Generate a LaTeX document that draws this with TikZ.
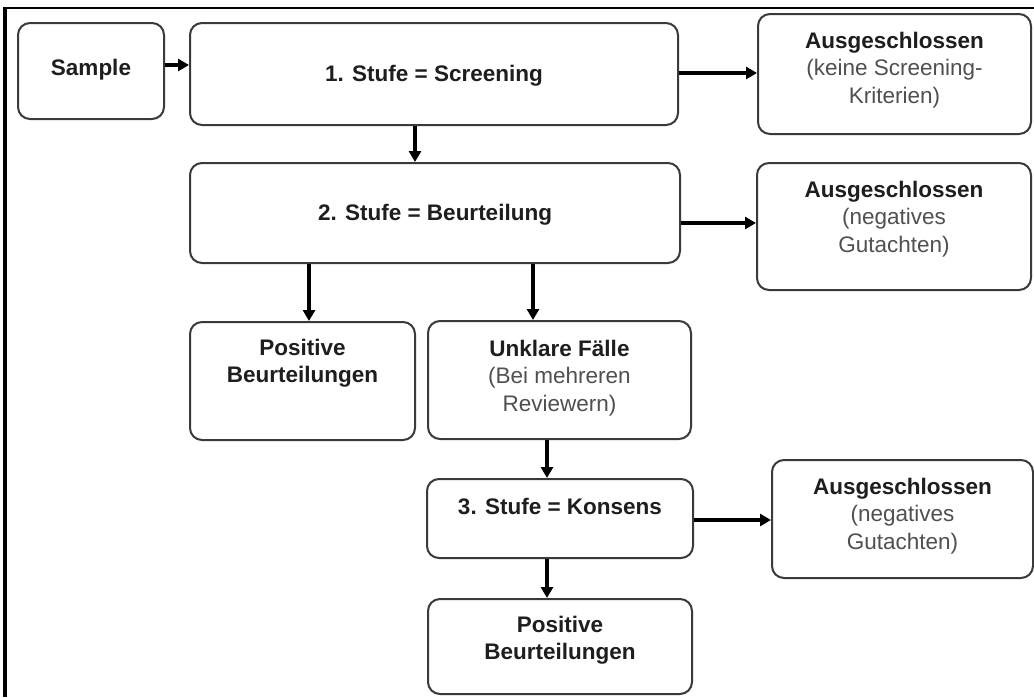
\documentclass[tikz,border=0pt]{standalone}
\usepackage{fontspec}
\setmainfont{Liberation Sans}
\usetikzlibrary{arrows.meta}
\definecolor{boxline}{HTML}{3A3A3A}
\definecolor{boldtxt}{HTML}{1E1E1E}
\definecolor{graytxt}{HTML}{505050}
\tikzset{
  box/.style={draw=boxline, line width=2pt, rounded corners=12pt, fill=white, inner sep=0pt},
  txt/.style={align=center, inner sep=0pt, font=\fontsize{22.5}{27.5}\selectfont, text=graytxt},
  arr/.style={line width=3.6pt, -{Triangle[length=11pt,width=12pt]}, black},
}
\newcommand{\hb}[1]{\textbf{\textcolor{boldtxt}{#1}}}
\begin{document}
\begin{tikzpicture}[x=1pt,y=-1pt]
\useasboundingbox (0,0) rectangle (1034,697);
\fill[white] (0,0) rectangle (1034,697);
% frame
\draw[line width=2.2pt] (1034,8) -- (4,8);
\draw[line width=3.2pt] (5,7) -- (5,697);
% boxes
\node[box, minimum width=146pt, minimum height=96pt] (sample) at (91,71) {};
\node[box, minimum width=488pt, minimum height=102pt] (s1) at (434,74) {};
\node[box, minimum width=273pt, minimum height=120pt] (a1) at (894.5,74) {};
\node[box, minimum width=490pt, minimum height=100pt] (s2) at (435,213) {};
\node[box, minimum width=274pt, minimum height=127pt] (a2) at (894,226.5) {};
\node[box, minimum width=225pt, minimum height=118pt] (p1) at (302.5,381) {};
\node[box, minimum width=263pt, minimum height=118pt] (u) at (559.5,380) {};
\node[box, minimum width=266pt, minimum height=79pt] (s3) at (560,518.5) {};
\node[box, minimum width=261pt, minimum height=118pt] (a3) at (902.5,519) {};
\node[box, minimum width=264pt, minimum height=95pt] (p2) at (560,646.5) {};
% texts
\node[txt] (tsample) at (91,70) {\hb{Sample}};
\node[txt] (ts1) at (434,76) {\hb{1. Stufe = Screening}};
\node[txt] (ta1) at (894.5,70) {\hb{Ausgeschlossen}\\(keine Screening-\\Kriterien)};
\node[txt] (ts2) at (435,215) {\hb{2. Stufe = Beurteilung}};
\node[txt] (ta2) at (894,219) {\hb{Ausgeschlossen}\\(negatives\\Gutachten)};
\node[txt] (tp1) at (302.5,363) {\hb{Positive}\\\hb{Beurteilungen}};
\node[txt] (tu) at (559.5,378) {\hb{Unklare Fälle}\\(Bei mehreren\\Reviewern)};
\node[txt] (ts3) at (560,506) {\hb{3. Stufe = Konsens}};
\node[txt] (ta3) at (902.5,516) {\hb{Ausgeschlossen}\\(negatives\\Gutachten)};
\node[txt] (tp2) at (560,640) {\hb{Positive}\\\hb{Beurteilungen}};
% connectors
\draw[arr] (sample.east |- 0,65) -- (s1.west |- 0,65);
\draw[arr] (s1.east |- 0,73) -- (a1.west |- 0,73);
\draw[arr] (s1.south -| 415,0) -- (s2.north -| 415,0);
\draw[arr] (s2.east |- 0,223) -- (a2.west |- 0,223);
\draw[arr] (s2.south -| 309,0) -- (p1.north -| 309,0);
\draw[arr] (s2.south -| 533,0) -- (u.north -| 533,0);
\draw[arr] (u.south -| 547,0) -- (s3.north -| 547,0);
\draw[arr] (s3.east |- 0,520) -- (a3.west |- 0,520);
\draw[arr] (s3.south -| 547,0) -- (p2.north -| 547,0);
\end{tikzpicture}
\end{document}
